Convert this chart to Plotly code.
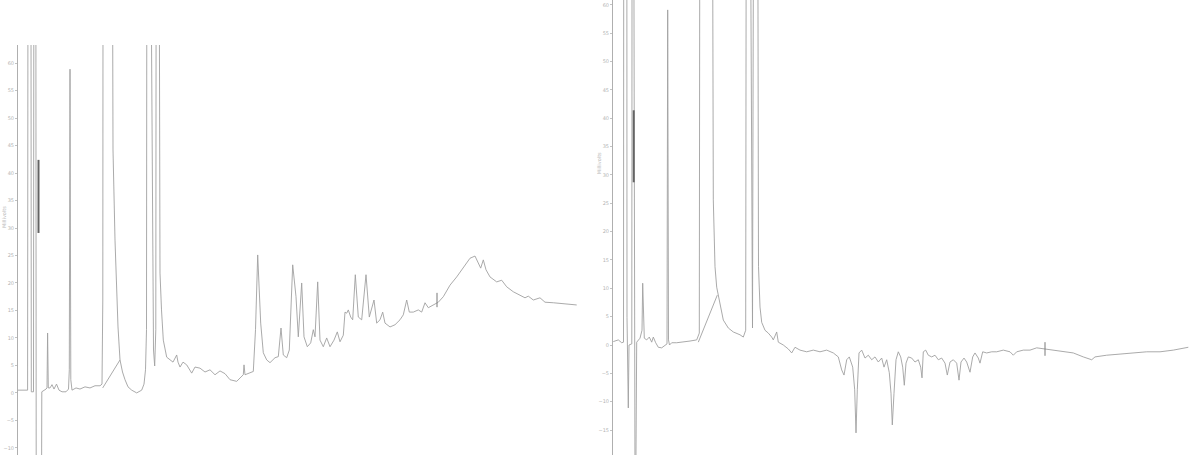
import plotly.graph_objects as go

# ---------------- data ----------------
# Left chromatogram: retention time (s) and detector response (mV)
left_time = [0, 8, 9.6, 10.3, 12.7, 13.3, 15.5, 16.2, 17.6, 18.3, 23.2, 23.8, 26, 28, 29, 29.6, 30.3, 32, 34, 36, 38.5, 41, 44, 48,
             50.5, 51.3, 52, 52.8, 54, 58, 62, 67, 72, 77, 82, 84, 84.8, 85.3, 93.5, 95, 97, 99, 100, 102, 104.5, 107, 110, 113.7,
             118.7, 123.7, 126, 127.5, 128.5, 129.2, 130.5, 135.5, 136.7, 137.8, 138.5, 140.3, 142, 143.5, 145.3, 148.7, 152, 155,
             158.7, 160, 162, 165, 168.7, 171, 173.7, 177, 182, 187, 192, 197, 202, 207, 212, 218.7, 225.3, 226, 227, 235.3, 237.5,
             239.7, 241, 242.7, 245.3, 248.7, 252, 257, 260.3, 263, 265.3, 268.7, 271.3, 274.7, 278, 280.3, 283.7, 286, 289.3,
             292.7, 295.3, 297, 299.7, 302, 305.3, 308.7, 312, 316, 319.3, 322, 325.3, 327, 328.7, 330.3, 332.7, 334.7, 337.3,
             340.3, 343.7, 348, 351.3, 353.7, 356, 358.7, 362, 364.7, 367, 372, 377, 382, 385.3, 388.7, 391.3, 395.3, 400.3,
             403.7, 407, 410.3, 415.3, 420.3, 425.3, 432, 438.7, 445.3, 452, 457, 460.3, 462.7, 465.3, 468, 472, 478.7, 483.7,
             488.7, 495.3, 502, 507, 510.3, 515.3, 522, 527, 535.3, 545.3, 558.7]
left_signal = [0.5, 0.4, 0.5, 150, 150, 0.2, 0.2, 150, 150, -40, -40, 0.2, 0.4, 0.7, 0.9, 10.9, 0.9, 0.9, 1.5, 0.7, 1.6, 0.5, 0.2, 0.2,
               0.7, 4.2, 58.9, 2.4, 0.5, 0.9, 0.7, 1.1, 0.9, 1.3, 1.3, 1.6, 16.9, 150, 150, 44.2, 27.8, 16.9, 12.0, 6.0, 3.8, 2.4,
               1.1, 0.5, 0.0, 0.5, 1.6, 4.2, 11.5, 150, 150, 7.8, 4.9, 11.5, 150, 150, 21.8, 15.1, 9.6, 6.5, 6.0, 5.6, 6.9, 5.6,
               4.7, 5.6, 5.1, 4.5, 3.6, 4.7, 4.5, 3.8, 4.2, 3.3, 4.0, 3.5, 2.4, 2.1, 3.3, 5.1, 3.3, 3.9, 11.5, 25.1, 18.7, 12.7,
               7.3, 6.0, 5.5, 6.4, 6.6, 11.8, 6.9, 6.4, 7.8, 23.3, 17.5, 10.2, 20.0, 10.2, 8.4, 9.1, 11.5, 10.2, 20.2, 9.6, 8.4,
               10.0, 8.4, 9.6, 11.1, 9.3, 10.5, 14.7, 14.5, 15.1, 13.8, 13.3, 21.5, 13.8, 13.3, 21.5, 13.8, 15.6, 16.9, 12.7,
               13.3, 14.7, 12.7, 12.0, 12.4, 13.3, 14.2, 16.9, 14.7, 14.7, 15.1, 14.7, 16.4, 15.5, 16.0, 16.5, 17.5, 19.6, 21.1,
               22.9, 24.5, 24.9, 23.6, 22.7, 24.2, 22.4, 21.1, 20.2, 20.5, 19.3, 18.4, 17.8, 17.3, 17.6, 16.9, 17.3, 16.5, 16.4,
               16.2, 16.0]

# Right chromatogram
right_time = [0.3, 5.3, 8.7, 10.5, 11, 13.7, 14, 15.3, 16, 18.8, 19.3, 19.9, 22.2, 22.7, 23.7, 27, 29, 29.7, 30.5, 31.3, 33.7,
              36.3, 38.7, 40.3, 42.7, 45.3, 48.7, 52, 54, 54.7, 55.5, 56.5, 58.7, 63.7, 70.3, 77, 83.7, 86.3, 87.3, 98.5, 100.3,
              102, 103.7, 105.3, 107, 110.3, 115.3, 120.3, 127, 130.3, 132.7, 133.7, 135.5, 139.5, 141.5, 144, 145.5, 147,
              148.7, 152, 155.3, 158.7, 160.3, 163.7, 165.3, 170.3, 175.3, 178.7, 182, 187, 193.7, 200.3, 207, 213.7, 220.3,
              225.3, 228.7, 231, 233.7, 236.3, 239.7, 241.7, 243, 244.3, 246, 248.7, 252, 255.3, 258.7, 262, 265.3, 268.7, 271,
              273.7, 276.3, 278, 279.3, 281, 283, 285.3, 287.7, 289.7, 291.3, 293, 295.3, 298.7, 302, 305.3, 307.7, 309, 310.3,
              312.7, 315.3, 318.7, 322, 325.3, 328.7, 332, 334.3, 337, 340.3, 343.7, 346, 348, 351, 353.7, 357, 359.7, 362,
              365.3, 367, 369.7, 373.7, 378.7, 383.7, 390.3, 397, 400.3, 403.7, 410.3, 417, 423.7, 432, 440.3, 450.3, 460.3,
              470.3, 478.7, 482, 493.7, 507, 520.3, 533.7, 547, 560.3, 575.3]
right_signal = [0.6, 0.9, 0.4, 0.5, 150, 150, 4.9, -11.1, 0.0, 0.2, 150, 150, -40, -40, 0.5, 1.2, 2.6, 10.9, 2.6, 1.2, 0.9,
                1.4, 0.5, 1.4, 0.4, -0.4, -0.5, 0.0, 0.2, 59.1, 0.9, 0.0, 0.4, 0.4, 0.5, 0.7, 0.9, 2.1, 150, 150, 25.6,
                13.8, 10.2, 8.8, 6.7, 4.4, 3.0, 2.3, 1.8, 1.4, 2.6, 150, 150, 3.0, 150, 150, 13.8, 6.7,
                4.0, 2.6, 2.1, 1.4, 0.9, 2.3, 0.5, 0.0, -0.7, -1.4, -0.4, -0.9, -1.2, -0.9, -1.2, -0.9, -1.4,
                -2.1, -4.4, -5.3, -2.6, -2.1, -3.9, -7.9, -15.5, -7.9, -1.4, -0.9, -2.3, -1.8, -2.6, -2.1, -3.0, -2.3, -3.9,
                -2.6, -4.9, -8.5, -14.1, -8.5, -2.6, -1.2, -2.1, -3.9, -7.1, -3.2, -2.1, -2.3, -3.0, -2.6, -3.9, -5.8, -1.2,
                -0.9, -1.8, -2.1, -1.8, -2.6, -2.3, -3.2, -5.3, -3.0, -2.6, -3.2, -6.2, -3.0, -2.3, -3.0, -4.8, -2.1, -1.4,
                -2.3, -3.2, -1.2, -1.4, -1.2, -1.2, -0.9, -1.2, -1.8, -1.2, -0.9, -0.9, -0.5, -0.7, -0.9, -1.2, -1.4,
                -2.1, -2.6, -2.1, -1.8, -1.6, -1.4, -1.2, -1.2, -0.9, -0.4]

# integration baselines drawn under the main peak
left_base_time = [84.7, 102]
left_base_signal = [0.9, 6.0]
right_base_time = [85.3, 104.3]
right_base_signal = [0.5, 8.8]

# event markers (dark bar near injection, small "+" tick)
left_event_time = [20.5, 20.5]
left_event_signal = [42.4, 29.1]
right_event_time = [20.7, 20.7]
right_event_signal = [41.4, 28.7]
left_tick_time = [419, 419]
left_tick_signal = [18.2, 15.6]
right_tick_time = [432, 432]
right_tick_signal = [0.5, -1.9]

left_yticks = list(range(-10, 61, 5))
right_yticks = list(range(-15, 61, 5))
y_title = "Millivolts"
y_title_level = 32   # response level at which the rotated axis title is centred

# ---------------- figure ----------------
W, H = 1190, 455
trace_col = "rgb(160,160,160)"
fig = go.Figure()

def add(x, y, xa, ya, color=trace_col, width=0.9):
    fig.add_trace(go.Scatter(x=x, y=y, xaxis=xa, yaxis=ya, mode="lines",
                             line=dict(color=color, width=width), hoverinfo="skip",
                             showlegend=False))

add(left_time, left_signal, "x", "y")
add(left_base_time, left_base_signal, "x", "y")
add(left_event_time, left_event_signal, "x", "y", color="rgb(100,100,100)", width=2)
add(left_tick_time, left_tick_signal, "x", "y", color="rgb(120,120,120)", width=1)

add(right_time, right_signal, "x2", "y2")
add(right_base_time, right_base_signal, "x2", "y2")
add(right_event_time, right_event_signal, "x2", "y2", color="rgb(100,100,100)", width=2)
add(right_tick_time, right_tick_signal, "x2", "y2", color="rgb(120,120,120)", width=1)

xcommon = dict(showgrid=False, zeroline=False, showticklabels=False, ticks="", showline=False,
               fixedrange=True, automargin=False)
ycommon = dict(showgrid=False, zeroline=False, showline=True, linecolor="rgb(175,175,175)", linewidth=1,
               ticks="outside", ticklen=2, tickcolor="rgb(195,195,195)",
               tickfont=dict(family="DejaVu Sans", size=5, color="rgb(180,180,180)"),
               fixedrange=True, automargin=False)

title_font = dict(family="DejaVu Sans", size=5, color="rgb(185,185,185)")
fig.update_layout(
    width=W, height=H,
    margin=dict(l=0, r=0, t=0, b=0, autoexpand=False),
    paper_bgcolor="white", plot_bgcolor="white",
    xaxis=dict(domain=[18 / W, 580 / W], range=[0, 562], anchor="y", **xcommon),
    yaxis=dict(domain=[0, 1 - 45 / H], range=[-11.3, 63.3], tickvals=left_yticks, anchor="x", **ycommon),
    xaxis2=dict(domain=[613 / W, 1.0], range=[0, 577], anchor="y2", **xcommon),
    yaxis2=dict(domain=[0, 1.0], range=[-19.4, 60.85], tickvals=right_yticks, anchor="x2", **ycommon),
    annotations=[
        dict(text=y_title, xref="x domain", yref="y", x=-0.025, y=y_title_level, textangle=-90,
             showarrow=False, font=title_font, xanchor="center", yanchor="middle"),
        dict(text=y_title, xref="x2 domain", yref="y2", x=-0.025, y=y_title_level, textangle=-90,
             showarrow=False, font=title_font, xanchor="center", yanchor="middle"),
    ],
)

fig.write_html("out.html", config={"displayModeBar": False},
               post_script="document.body.style.margin='0px';document.body.style.overflow='hidden';")
